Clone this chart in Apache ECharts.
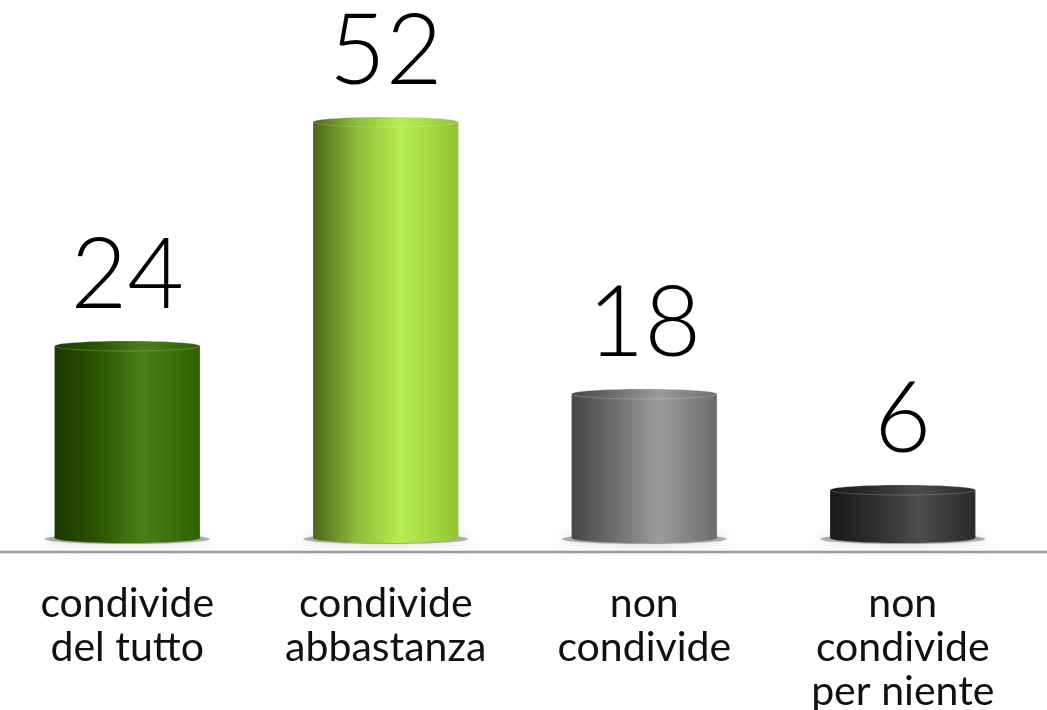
<!DOCTYPE html>
<html><head><meta charset="utf-8">
<script src="https://cdn.jsdelivr.net/npm/echarts@6/dist/echarts.min.js"></script>
<style>html,body{margin:0;padding:0;background:#fff}#c{width:1047px;height:710px}</style>
</head><body><div id="c"></div>
<script>
const categories = ['condivide\ndel tutto', 'condivide\nabbastanza', 'non\ncondivide', 'non\ncondivide\nper niente'];
const values = [24, 52, 18, 6];
const palettes = [
  ['#1c3800', '#2c5600', '#4a7f18', '#2e6200'],
  ['#4a661a', '#8cbc38', '#b7ee50', '#92c433'],
  ['#474747', '#6e6e6e', '#9c9c9c', '#6c6c6c'],
  ['#191919', '#2e2e2e', '#4c4c4c', '#2a2a2a']
];
function grad(p) {
  return new echarts.graphic.LinearGradient(0, 0, 1, 0, [
    {offset: 0, color: p[0]}, {offset: 0.3, color: p[1]},
    {offset: 0.6, color: p[2]}, {offset: 1, color: p[3]}
  ]);
}
const chart = echarts.init(document.getElementById('c'));
const FONT = 'Lato, "DejaVu Sans", sans-serif';
chart.setOption({
  animation: false,
  grid: {left: -2, right: 15, top: 18, bottom: 158, containLabel: false, outerBoundsMode: 'none'},
  xAxis: {
    type: 'category', data: categories,
    axisLine: {show: false}, axisTick: {show: false},
    axisLabel: {color: '#111', fontSize: 41, fontFamily: FONT, lineHeight: 44, margin: 30, interval: 0}
  },
  yAxis: {type: 'value', min: -1.75, max: 65, show: false, splitLine: {show: false}},
  graphic: [{type: 'line', shape: {x1: 0, y1: 552, x2: 1047, y2: 552}, style: {stroke: '#9a9a9a', lineWidth: 2.5}, z: 0}],
  series: [{
    type: 'custom',
    clip: false,
    data: values.map((v, i) => [i, v]),
    renderItem: function (params, api) {
      const i = api.value(0), v = api.value(1);
      const top = api.coord([i, v]);
      const base = api.coord([i, 0]);
      const w = api.size([1, 0])[0] * 0.562;
      const cx = top[0], x0 = cx - w / 2;
      const ry = 5;
      const p = palettes[i];
      const g = grad(p);
      return {
        type: 'group',
        children: [
          {type: 'ellipse', shape: {cx: cx, cy: base[1] + 1, rx: w / 2 + 10, ry: 5},
           style: {fill: 'rgba(0,0,0,0.3)', shadowBlur: 12, shadowColor: 'rgba(0,0,0,0.55)'}},
          {type: 'rect', shape: {x: x0, y: top[1], width: w, height: base[1] - top[1]}, style: {fill: g}},
          {type: 'ellipse', shape: {cx: cx, cy: base[1], rx: w / 2, ry: ry}, style: {fill: g}},
          {type: 'ellipse', shape: {cx: cx, cy: top[1], rx: w / 2, ry: ry},
           style: {fill: grad(p), stroke: 'rgba(255,255,255,0.2)', lineWidth: 1}},
          {type: 'text', x: cx, y: top[1] - 21,
           style: {text: String(v), fill: '#000', fontSize: 98, fontFamily: FONT, fontWeight: 300,
                   align: 'center', verticalAlign: 'bottom'}}
        ]
      };
    }
  }]
});
</script></body></html>
